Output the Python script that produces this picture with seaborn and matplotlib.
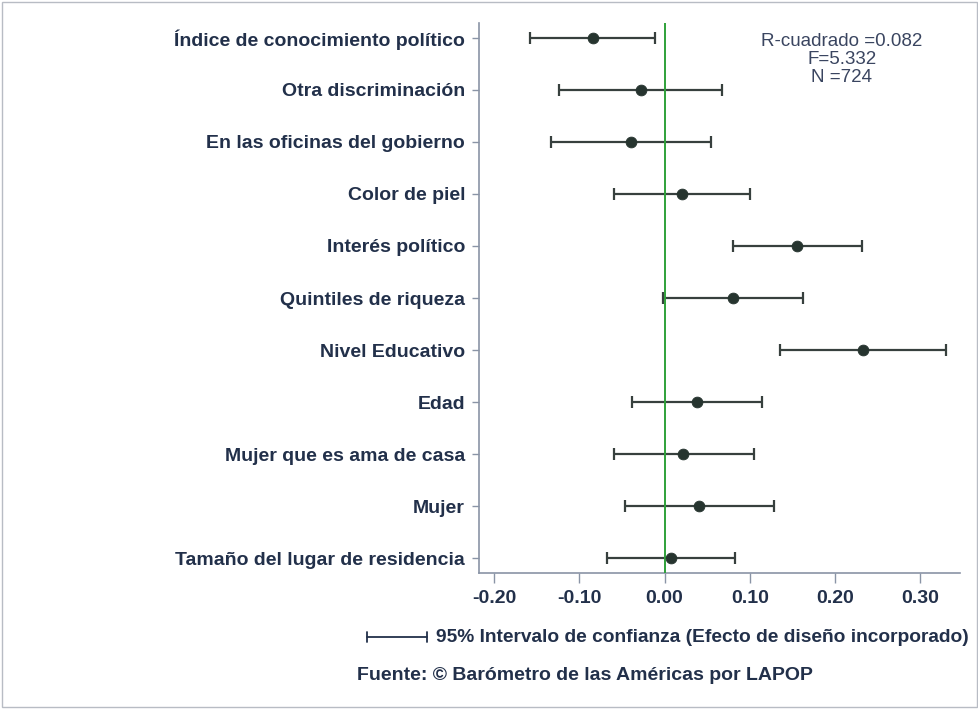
import matplotlib
matplotlib.use("Agg")
import matplotlib.pyplot as plt
import seaborn as sns
import pandas as pd
from matplotlib.lines import Line2D
from matplotlib.patches import Rectangle

variables = [
    "Índice de conocimiento político",
    "Otra discriminación",
    "En las oficinas del gobierno",
    "Color de piel",
    "Interés político",
    "Quintiles de riqueza",
    "Nivel Educativo",
    "Edad",
    "Mujer que es ama de casa",
    "Mujer",
    "Tamaño del lugar de residencia",
]
coef = [-0.084, -0.028, -0.039, 0.020, 0.156, 0.080, 0.233, 0.038, 0.022, 0.041, 0.007]
ci_low = [-0.158, -0.124, -0.133, -0.059, 0.080, -0.002, 0.136, -0.038, -0.060, -0.047, -0.068]
ci_high = [-0.011, 0.068, 0.055, 0.100, 0.232, 0.162, 0.330, 0.115, 0.105, 0.129, 0.083]
x_ticks = [-0.20, -0.10, 0.00, 0.10, 0.20, 0.30]
stats_text = ["R-cuadrado =0.082", "F=5.332", "N =724"]

df = pd.DataFrame({"variable": variables, "coef": coef, "lo": ci_low, "hi": ci_high})

sns.set_style("white")
plt.rcParams["font.family"] = ["Liberation Sans", "DejaVu Sans"]

text_col = "#22304a"
bar_col = "#37403e"
pt_col = "#26342f"
fs = 14

fig = plt.figure(figsize=(9.79, 7.09), dpi=100)
ax = fig.add_axes([479/979, 1-573/709, (960-479)/979, (573-23)/709])

ypos = list(range(len(variables)))
ax.errorbar(df["coef"], ypos, xerr=[df["coef"]-df["lo"], df["hi"]-df["coef"]],
            fmt="none", ecolor=bar_col, elinewidth=1.6, capsize=4.5, capthick=1.6, zorder=2)
ax.axvline(0, color="#2fa13a", lw=1.4, zorder=3)
sns.scatterplot(data=df, x="coef", y="variable", ax=ax, color=pt_col, s=60,
                edgecolor=pt_col, zorder=4, legend=False)

ax.set_xlim(-0.218, 0.347)
ax.set_ylim(10.28, -0.28)
ax.set_xticks(x_ticks)
ax.set_xticklabels([f"{t:.2f}" for t in x_ticks])
ax.set_xlabel("")
ax.set_ylabel("")
for s in ["top", "right"]:
    ax.spines[s].set_visible(False)
for s in ["left", "bottom"]:
    ax.spines[s].set_color("#8a94a6")
    ax.spines[s].set_linewidth(1.2)
ax.tick_params(axis="y", length=5, width=1, color="#8a94a6", labelsize=fs,
               labelcolor=text_col, pad=5, left=True)
ax.tick_params(axis="x", length=7, width=1, color="#8a94a6", labelsize=fs,
               labelcolor=text_col, pad=5, bottom=True)
for lbl in ax.get_yticklabels() + ax.get_xticklabels():
    lbl.set_fontweight("bold")

for i, t in enumerate(stats_text):
    fig.text(842/979, 1-(42+17.5*i)/709, t, ha="center", va="center",
             fontsize=13.5, color="#3a4560")

# legend line with caps
y_leg = 1-637/709
fig.add_artist(Line2D([367/979, 427/979], [y_leg, y_leg], color=text_col, lw=1.3))
for xx in [367, 427]:
    fig.add_artist(Line2D([xx/979, xx/979], [y_leg-5/709, y_leg+5/709], color=text_col, lw=1.3))
fig.text(436/979, y_leg, "95% Intervalo de confianza (Efecto de diseño incorporado)",
         ha="left", va="center", fontsize=13.8, fontweight="bold", color=text_col)
fig.text(357/979, 1-676/709, "Fuente: © Barómetro de las Américas por LAPOP",
         ha="left", va="center", fontsize=fs, fontweight="bold", color=text_col)

fig.add_artist(Rectangle((2/979, 2/709), 975/979, 705/709, transform=fig.transFigure,
                         fill=False, edgecolor="#b8bcc4", lw=1))

fig.savefig("out.png", dpi=100)
